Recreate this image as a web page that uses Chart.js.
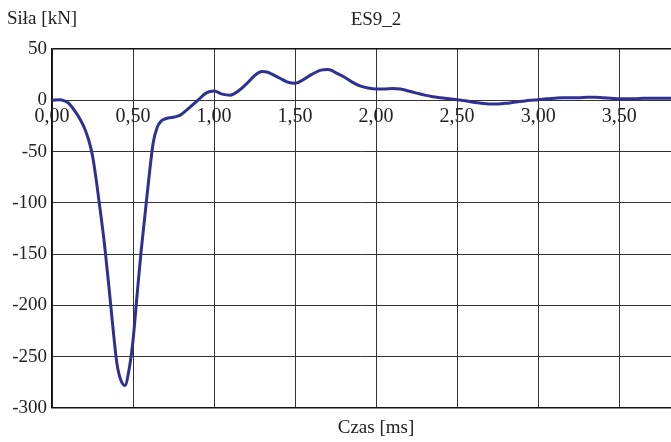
<!DOCTYPE html>
<html>
<head>
<meta charset="utf-8">
<script src="https://cdn.jsdelivr.net/npm/chart.js@4/dist/chart.umd.min.js"></script>
<style>
  html, body { margin: 0; padding: 0; background: #fff; }
  #wrap { width: 671px; height: 442px; position: relative; }
</style>
</head>
<body>
<div id="wrap"><canvas id="forceChart"></canvas></div>
<script>
// czas [ms] i siła [kN] (gęściej w okolicy minimum)
const times = [
  0.00, 0.05, 0.075, 0.10, 0.125, 0.15, 0.175, 0.20, 0.225, 0.25,
  0.275, 0.30, 0.325, 0.35, 0.375, 0.40, 0.425, 0.45, 0.475, 0.50,
  0.525, 0.55, 0.575, 0.60, 0.625, 0.65, 0.675, 0.70, 0.725, 0.75,
  0.775, 0.80, 0.85, 0.90, 0.95,
  1.00, 1.05, 1.10, 1.15, 1.20, 1.25, 1.275, 1.30, 1.325, 1.35, 1.40, 1.45,
  1.50, 1.55, 1.60, 1.65, 1.675, 1.70, 1.725, 1.75, 1.80, 1.85, 1.90, 1.95,
  2.00, 2.05, 2.10, 2.15, 2.20, 2.25, 2.30, 2.35, 2.40, 2.45,
  2.50, 2.55, 2.60, 2.65, 2.70, 2.75, 2.80, 2.85, 2.90, 2.95,
  3.00, 3.05, 3.10, 3.15, 3.20, 3.25, 3.30, 3.35, 3.40, 3.45,
  3.50, 3.55, 3.60, 3.65, 3.70, 3.75, 3.80, 3.85
];
const forces = [
  0, 0.5, -0.5, -2.5, -7, -12.5, -19, -27, -38, -54,
  -80, -110, -142, -180, -220, -256, -273, -278, -263, -234,
  -190, -147, -110, -73, -41, -26, -20, -18, -17, -16.5,
  -15.5, -13.5, -7, 0, 7,
  9, 6, 5, 9, 16, 24, 27, 28, 27.5, 26, 22, 18,
  16.5, 20, 25, 29, 29.8, 30, 29.2, 27, 23, 18, 14, 12,
  11, 11, 11.5, 11, 9, 7, 5, 3.5, 2.5, 1.5,
  0.5, -0.5, -2, -3, -3.5, -3.5, -3, -2, -1, 0,
  0.5, 1.5, 2, 2.5, 2.5, 2.5, 3, 3, 2.5, 2,
  1.5, 1.5, 1.5, 2, 2, 2, 2, 2
];
const yTicks = [-300, -250, -200, -150, -100, -50, 0, 50];
const xTickStep = 0.5;

const chartTitle = 'ES9_2';
const yLabel = 'Siła [kN]';
const xLabel = 'Czas [ms]';

Chart.defaults.font.family = '"Liberation Serif", "DejaVu Serif", serif';
Chart.defaults.font.size = 19;
Chart.defaults.color = '#222';

// napisy: tytuł i opisy osi
const labelsPlugin = {
  id: 'labels',
  afterDraw(chart) {
    const c = chart.ctx;
    c.save();
    c.fillStyle = '#222';
    c.font = '19px "Liberation Serif", serif';
    c.textBaseline = 'alphabetic';
    c.textAlign = 'left';
    c.fillText(yLabel, 7, 24);
    c.textAlign = 'center';
    c.fillText(chartTitle, 376, 25);
    c.fillText(xLabel, 376, 433);
    c.restore();
  }
};

const points = times.map((t, i) => ({ x: t, y: forces[i] }));

new Chart(document.getElementById('forceChart'), {
  type: 'line',
  data: {
    datasets: [{
      data: points,
      borderColor: '#2e3192',
      borderWidth: 3,
      pointRadius: 0,
      cubicInterpolationMode: 'monotone',
      fill: false
    }]
  },
  options: {
    responsive: true,
    maintainAspectRatio: false,
    animation: false,
    layout: { padding: { top: 49, bottom: 34, left: 0, right: 0 } },
    plugins: {
      legend: { display: false },
      tooltip: { enabled: false }
    },
    scales: {
      x: {
        type: 'linear',
        position: { y: 0 },
        min: 0,
        max: 3.82,
        grid: { color: '#333', lineWidth: 1, drawTicks: false },
        border: { color: '#333', width: 1 },
        ticks: {
          stepSize: xTickStep,
          includeBounds: false,
          padding: 4,
          maxRotation: 0,
          font: { size: 20 },
          callback: v => v.toFixed(2).replace('.', ',')
        }
      },
      y: {
        min: yTicks[0],
        max: yTicks[yTicks.length - 1],
        afterFit: s => { s.width = 52; },
        afterBuildTicks: s => { s.ticks = yTicks.map(v => ({ value: v })); },
        grid: {
          drawTicks: false,
          color: ctx => (ctx.tick && (ctx.tick.value === -300 || ctx.tick.value === 50)) ? '#111' : '#333',
          lineWidth: ctx => (ctx.tick && (ctx.tick.value === -300 || ctx.tick.value === 50)) ? 1.5 : 1
        },
        border: { color: '#111', width: 1.5 },
        ticks: { padding: 5 }
      }
    }
  },
  plugins: [labelsPlugin]
});
</script>
</body>
</html>
